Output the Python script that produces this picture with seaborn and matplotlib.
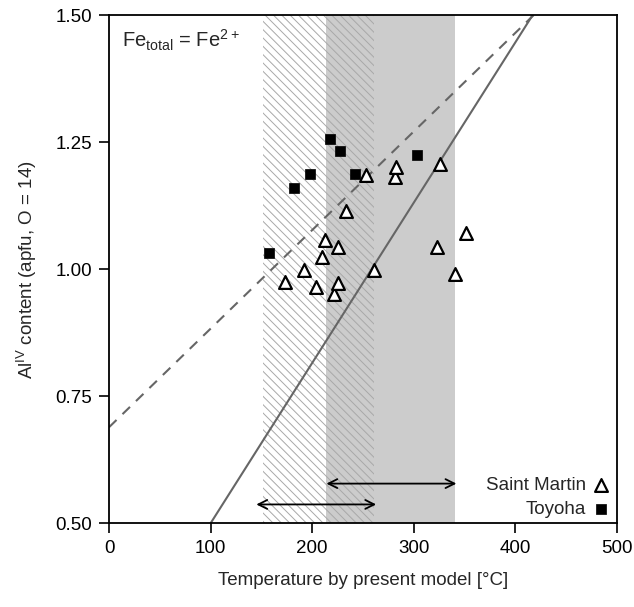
import matplotlib
matplotlib.use("Agg")
import matplotlib.pyplot as plt
import seaborn as sns
import pandas as pd
import numpy as np

# Data
toyoha_T = [157, 182, 198, 218, 227, 242, 303]
toyoha_al = [1.032, 1.160, 1.188, 1.257, 1.232, 1.188, 1.225]

stmartin_T = [173, 192, 204, 210, 213, 221, 225, 225, 233, 253, 261, 282, 283, 323, 326, 341, 351]
stmartin_al = [0.975, 0.998, 0.965, 1.024, 1.057, 0.952, 0.972, 1.044, 1.114, 1.185,
               0.998, 1.182, 1.201, 1.044, 1.207, 0.990, 1.072]

# Reference lines (endpoints in data units)
dashed_T = [0, 418]
dashed_al = [0.689, 1.50]
solid_T = [100, 417]
solid_al = [0.50, 1.50]

# Ranges
hatch_range = [152, 261]
gray_range = [214, 341]
arrow_low = [145, 263, 0.537]
arrow_high = [214, 342, 0.578]

sns.set_theme(style="ticks")
plt.rcParams['font.family'] = ['Liberation Sans', 'DejaVu Sans']
plt.rcParams['mathtext.default'] = 'regular'
plt.rcParams['hatch.linewidth'] = 0.7
plt.rcParams['hatch.color'] = '#a8a8a8'

FS = 13.5

fig = plt.figure(figsize=(6.34, 6.07), dpi=100)
ax = fig.add_axes([0.172, 0.138, 0.801, 0.837])

ax.axvspan(gray_range[0], gray_range[1], color='#cccccc', lw=0, zorder=0)
ax.axvspan(hatch_range[0], hatch_range[1], facecolor='none', edgecolor='#a8a8a8',
           hatch='\\\\\\\\', lw=0, zorder=0.5)

ax.plot(dashed_T, dashed_al, color='#666666', lw=1.5, ls=(0, (5, 4)), zorder=1)
ax.plot(solid_T, solid_al, color='#666666', lw=1.5, zorder=1)

for a in (arrow_low, arrow_high):
    ax.annotate('', xy=(a[0], a[2]), xytext=(a[1], a[2]),
                arrowprops=dict(arrowstyle='<->', color='black', lw=1.3, shrinkA=0, shrinkB=0,
                                mutation_scale=16))

df_sm = pd.DataFrame({'T': stmartin_T, 'Al': stmartin_al})
df_ty = pd.DataFrame({'T': toyoha_T, 'Al': toyoha_al})
sns.scatterplot(data=df_sm, x='T', y='Al', marker='^', s=85, facecolor='white',
                edgecolor='black', linewidth=1.6, label='Saint Martin', ax=ax, zorder=3)
sns.scatterplot(data=df_ty, x='T', y='Al', marker='s', s=60, color='black',
                edgecolor='black', linewidth=0.5, label='Toyoha', ax=ax, zorder=3)

ax.set_xlim(0, 500)
ax.set_ylim(0.5, 1.5)
ax.set_xticks([0, 100, 200, 300, 400, 500])
ax.set_yticks([0.50, 0.75, 1.00, 1.25, 1.50])
ax.set_yticklabels(['0.50', '0.75', '1.00', '1.25', '1.50'])
ax.tick_params(direction='out', length=7, width=1.2, labelsize=FS, colors='black', pad=5)
for sp in ax.spines.values():
    sp.set_visible(True)
    sp.set_linewidth(1.3)
    sp.set_color('black')

ax.set_xlabel('Temperature by present model [°C]', fontsize=FS, labelpad=11)
ax.set_ylabel('Al$^{IV}$ content (apfu, O = 14)', fontsize=FS, labelpad=12)

ax.text(0.026, 0.975, 'Fe$_{total}$ = Fe$^{2+}$', transform=ax.transAxes, fontsize=14.5,
        va='top', ha='left')

leg = ax.legend(loc='lower right', bbox_to_anchor=(1.014, -0.008), frameon=False,
                markerfirst=False, fontsize=FS, handletextpad=0.1, handlelength=1.4,
                borderaxespad=0.1, labelspacing=0.35)

fig.savefig('out.png', dpi=100)
